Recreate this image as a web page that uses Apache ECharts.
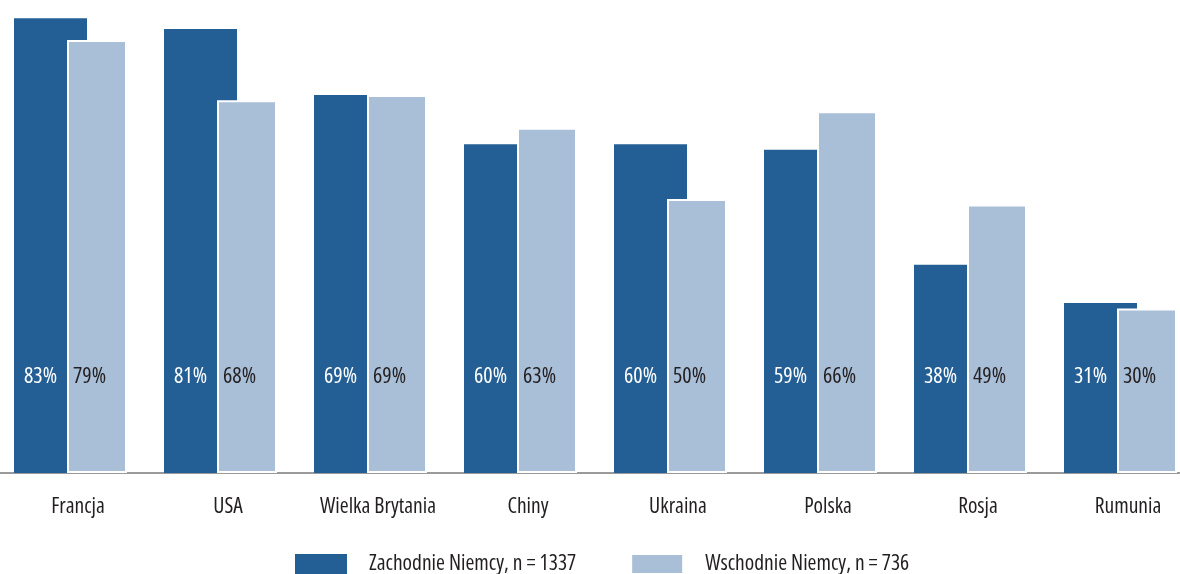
<!DOCTYPE html>
<html>
<head>
<meta charset="utf-8">
<script src="https://cdn.jsdelivr.net/npm/echarts@6/dist/echarts.min.js"></script>
<style>
  html, body { margin: 0; padding: 0; background: #fff; }
  #chart { width: 1180px; height: 574px; }
</style>
</head>
<body>
<div id="chart"></div>
<script>
var countries = ['Francja', 'USA', 'Wielka Brytania', 'Chiny', 'Ukraina', 'Polska', 'Rosja', 'Rumunia'];
var west = [83, 81, 69, 60, 60, 59, 38, 31];
var east = [79, 68, 69, 63, 50, 66, 49, 30];
var seriesNames = ['Zachodnie Niemcy, n = 1337', 'Wschodnie Niemcy, n = 736'];

// Open Sans has a width axis, 'condensed' gets close to the narrow original face
var font = "'Open Sans', 'Roboto Condensed', sans-serif";
var stretch = 'condensed';
var dark = '#235f95';
var light = '#a9bfd7';
var textColor = '#231f20';

var chart = echarts.init(document.getElementById('chart'));

chart.setOption({
  animation: false,
  textStyle: { fontFamily: font, fontStyle: stretch },
  grid: {
    left: -4.5,
    right: -15.5,
    top: -75,
    bottom: 101,
    outerBoundsMode: 'none'
  },
  legend: {
    left: 295,
    top: 553,
    padding: 0,
    itemWidth: 52,
    itemHeight: 20,
    itemGap: 54,
    icon: 'rect',
    textStyle: {
      fontFamily: font,
      fontStyle: stretch,
      fontSize: 21.5,
      lineHeight: 20,
      color: textColor,
      padding: [0, 0, 0, 17]
    },
    data: seriesNames
  },
  xAxis: {
    type: 'category',
    data: countries,
    axisTick: { show: false },
    axisLine: { lineStyle: { color: '#9a9a9a', width: 2 } },
    axisLabel: {
      interval: 0,
      color: textColor,
      fontFamily: font,
      fontStyle: stretch,
      fontSize: 21.5,
      margin: 23,
      padding: [0, 0, 0, 15]
    }
  },
  yAxis: {
    type: 'value',
    min: 0,
    max: 100,
    show: false,
    splitLine: { show: false }
  },
  series: [
    {
      name: seriesNames[0],
      type: 'bar',
      data: west,
      barWidth: 73,
      barGap: '-27.4%',
      itemStyle: { color: dark },
      label: {
        show: true,
        position: 'insideBottomLeft',
        distance: 10,
        verticalAlign: 'middle',
        offset: [0, -86],
        formatter: '{c}%',
        fontFamily: font,
        fontStyle: stretch,
        fontSize: 22,
        color: '#ffffff'
      }
    },
    {
      name: seriesNames[1],
      type: 'bar',
      data: east,
      barWidth: 60,
      itemStyle: { color: light, borderColor: '#ffffff', borderWidth: 2 },
      label: {
        show: true,
        position: 'insideBottomLeft',
        distance: 6,
        verticalAlign: 'middle',
        offset: [0, -90],
        formatter: '{c}%',
        fontFamily: font,
        fontStyle: stretch,
        fontSize: 22,
        color: textColor
      }
    }
  ]
});
</script>
</body>
</html>
